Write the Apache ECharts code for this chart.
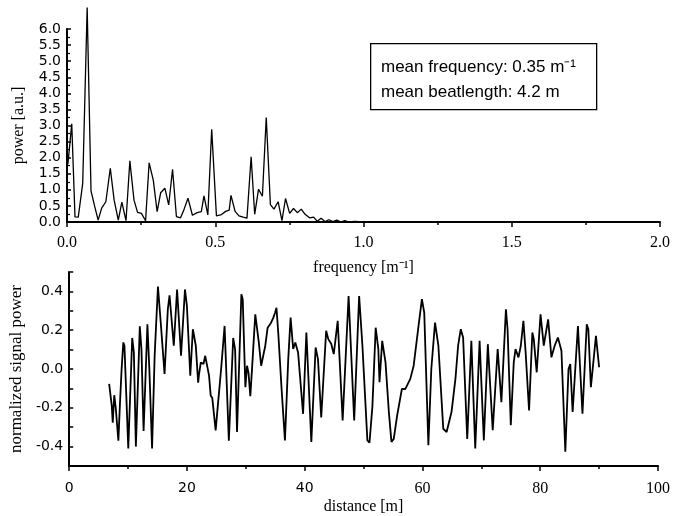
<!DOCTYPE html>
<html>
<head>
<meta charset="utf-8">
<script src="https://cdn.jsdelivr.net/npm/echarts@6/dist/echarts.min.js"></script>
<style>
html,body{margin:0;padding:0;background:#fff;}
#c{width:673px;height:516px;}
</style>
</head>
<body>
<div id="c"></div>
<script>
// ---- Top panel: power spectrum ----
var freq = [0.003,0.016,0.027,0.038,0.053,0.068,0.081,0.093,0.105,0.117,0.131,0.146,0.159,0.173,0.185,0.199,
  0.212,0.226,0.238,0.251,0.265,0.277,0.291,0.304,0.316,0.330,0.343,0.356,0.369,0.383,0.395,0.408,
  0.423,0.439,0.453,0.462,0.475,0.488,0.504,0.521,0.535,0.547,0.553,0.567,0.580,0.594,0.607,0.621,
  0.633,0.646,0.659,0.672,0.686,0.698,0.712,0.725,0.737,0.751,0.764,0.777,0.790,0.803,0.818,0.832,
  0.844,0.857,0.871,0.883,0.897,0.910,0.924,0.937,0.950,0.970,1.000,1.500,2.000];
var power = [1.80,3.05,0.16,0.15,1.20,6.67,0.97,0.50,0.06,0.43,0.63,1.67,0.68,0.06,0.62,0.04,
  1.90,0.68,0.30,0.27,0.04,1.84,1.30,0.32,0.91,1.05,0.53,1.64,0.17,0.13,0.40,0.74,
  0.21,0.29,0.32,0.81,0.22,2.88,0.19,0.23,0.33,0.37,0.83,0.33,0.19,0.15,0.12,2.03,
  0.24,1.02,0.80,3.25,0.54,0.40,0.63,0.04,0.73,0.27,0.42,0.29,0.40,0.24,0.13,0.15,
  0.02,0.12,0.01,0.07,0.01,0.06,0.00,0.04,0.00,0.02,0.00,0.00,0.00];

// ---- Bottom panel: normalized signal power vs distance ----
var distance = [6.78,7.23,7.39,7.65,7.90,8.35,8.63,8.90,9.19,9.38,10.03,10.70,10.98,11.32,11.99,12.27,12.63,
  13.28,13.61,14.07,14.51,15.07,15.63,16.19,16.75,17.04,17.76,18.32,18.99,19.66,19.99,20.56,21.00,21.50,
  21.90,22.02,22.35,22.80,23.10,23.40,23.75,24.03,24.30,24.87,25.15,25.80,26.39,27.11,27.85,28.18,28.50,
  29.24,29.47,29.92,30.20,30.45,30.76,31.15,31.60,32.20,32.60,33.30,33.70,34.28,34.67,34.96,35.20,35.50,
  36.07,36.64,37.20,37.60,38.04,38.40,38.87,39.72,40.28,41.12,41.85,42.25,42.80,43.64,44.00,44.50,44.93,
  45.60,46.44,47.45,48.40,49.24,49.80,50.64,51.00,51.50,52.05,52.50,52.70,53.16,53.72,54.29,54.73,55.12,
  55.70,56.50,57.10,57.93,58.50,59.33,59.90,60.30,61.00,61.50,62.13,62.70,63.53,64.10,64.93,65.60,66.05,
  66.50,66.90,67.60,68.30,68.96,69.70,70.42,71.10,71.93,72.77,73.40,74.17,74.45,75.00,75.50,75.80,76.30,
  76.70,77.14,77.50,78.10,78.66,78.90,79.40,80.05,80.60,81.34,81.90,82.45,83.00,83.60,84.26,84.80,85.10,
  85.50,86.40,87.17,87.90,88.17,88.60,89.46,90.00];
var signal = [-0.077,-0.190,-0.277,-0.135,-0.200,-0.370,-0.170,0.000,0.137,0.120,-0.410,0.160,0.085,-0.400,0.220,0.100,-0.320,
  0.230,0.000,-0.410,0.068,0.425,0.205,-0.026,0.308,0.380,0.120,0.410,0.068,0.410,0.325,-0.034,0.205,0.120,
  -0.070,-0.034,0.034,0.026,0.068,0.020,-0.034,-0.137,-0.150,-0.316,-0.220,0.000,0.222,-0.370,0.160,0.100,-0.325,
  0.385,0.360,-0.094,0.017,-0.020,-0.140,0.051,0.282,0.137,0.017,0.120,0.213,0.239,0.265,0.290,0.316,0.188,
  -0.103,-0.368,0.051,0.265,0.103,0.137,0.085,-0.231,0.188,-0.376,0.111,0.051,-0.250,0.197,0.154,0.130,0.077,
  0.248,-0.265,0.376,-0.265,0.376,0.120,-0.368,-0.380,-0.190,0.213,0.103,-0.068,0.145,0.034,-0.222,-0.376,-0.360,
  -0.239,-0.103,-0.103,-0.051,0.017,0.222,0.360,0.290,-0.393,0.000,0.239,0.120,-0.308,-0.325,-0.222,-0.050,0.120,
  0.205,0.162,-0.360,0.145,-0.410,0.145,-0.368,0.128,-0.316,0.103,-0.171,0.308,0.205,-0.290,0.034,0.103,0.060,
  0.120,0.248,0.094,-0.214,0.188,0.154,-0.017,0.282,0.120,0.256,0.060,0.120,0.162,0.094,-0.427,0.000,0.026,
  -0.222,0.222,-0.231,0.231,0.205,-0.094,0.171,0.009];

// tick label settings
var topYTicks = {min: 0, max: 6, interval: 0.5};
var topXTicks = {min: 0, max: 2, interval: 0.5};
var botXTicks = {min: 0, max: 100, interval: 20};
var botYTicks = {min: -0.5, max: 0.5, interval: 0.1};

var serif = "'Liberation Serif','Times New Roman',serif";
var sans = "'DejaVu Sans','Liberation Sans',sans-serif";

function pairs(xs, ys){ var out=[]; for(var i=0;i<xs.length;i++) out.push([xs[i], ys[i]]); return out; }

var axisLineStyle = {color:'#000', width:2};
var chart = echarts.init(document.getElementById('c'), null, {renderer:'canvas'});
chart.setOption({
  animation: false,
  backgroundColor: '#fff',
  grid: [
    {left: 67, right: 11, top: 29, height: 193, containLabel: false},
    {left: 67, right: 11, top: 272, height: 196, containLabel: false}
  ],
  xAxis: [
    {type:'value', gridIndex:0, min:topXTicks.min, max:topXTicks.max, interval:topXTicks.interval,
     name:'frequency [m⁻¹]', nameLocation:'middle', nameGap:38,
     nameTextStyle:{fontFamily:serif, fontSize:16, color:'#000'},
     axisLine:{show:true, onZero:false, lineStyle:axisLineStyle},
     axisTick:{show:true, inside:false, length:5, lineStyle:{color:'#000', width:1.5}},
     minorTick:{show:true, splitNumber:2, length:3, lineStyle:{color:'#000', width:1.5}},
     splitLine:{show:false}, minorSplitLine:{show:false},
     axisLabel:{fontFamily:serif, fontSize:16, color:'#000', margin:13,
       formatter:function(v){return v.toFixed(1);}}},
    {type:'value', gridIndex:1, min:botXTicks.min, max:botXTicks.max, interval:botXTicks.interval,
     name:'distance [m]', nameLocation:'middle', nameGap:33,
     nameTextStyle:{fontFamily:serif, fontSize:16, color:'#000'},
     axisLine:{show:true, onZero:false, lineStyle:axisLineStyle},
     axisTick:{show:true, inside:false, length:5, lineStyle:{color:'#000', width:1.5}},
     minorTick:{show:true, splitNumber:2, length:3, lineStyle:{color:'#000', width:1.5}},
     splitLine:{show:false}, minorSplitLine:{show:false},
     axisLabel:{color:'#000', margin:15,
       formatter:function(v){return v <= 40 ? '{s|'+v+'}' : '{t|'+v+'}';},
       rich:{s:{fontFamily:sans, fontSize:14, color:'#000'}, t:{fontFamily:serif, fontSize:16, color:'#000'}}}}
  ],
  yAxis: [
    {type:'value', gridIndex:0, min:topYTicks.min, max:topYTicks.max, interval:topYTicks.interval,
     name:'power [a.u.]', nameLocation:'middle', nameGap:40,
     nameTextStyle:{fontFamily:serif, fontSize:16, color:'#000'},
     axisLine:{show:true, onZero:false, lineStyle:axisLineStyle},
     axisTick:{show:true, inside:true, length:4, lineStyle:{color:'#000', width:1.5}},
     minorTick:{show:true, splitNumber:2, length:3, lineStyle:{color:'#000', width:1.2}},
     splitLine:{show:false}, minorSplitLine:{show:false},
     axisLabel:{fontFamily:sans, fontSize:14, color:'#000', margin:6,
       formatter:function(v){return v.toFixed(1);}}},
    {type:'value', gridIndex:1, min:botYTicks.min, max:botYTicks.max, interval:botYTicks.interval,
     name:'normalized signal power', nameLocation:'middle', nameGap:40,
     nameTextStyle:{fontFamily:serif, fontSize:17, color:'#000'},
     axisLine:{show:true, onZero:false, lineStyle:axisLineStyle},
     axisTick:{show:true, inside:true, length:4, lineStyle:{color:'#000', width:1.5}},
     splitLine:{show:false},
     axisLabel:{fontFamily:sans, fontSize:14, color:'#000', margin:6, showMinLabel:true, showMaxLabel:true,
       formatter:function(v){var k=Math.round(v*10); if(Math.abs(k)%2===1) return ''; return (k/10).toFixed(1);}}}
  ],
  series: [
    {type:'line', xAxisIndex:0, yAxisIndex:0, data:pairs(freq, power), showSymbol:false, clip:false,
     lineStyle:{color:'#000', width:1.3}, silent:true},
    {type:'line', xAxisIndex:1, yAxisIndex:1, data:pairs(distance, signal), showSymbol:false, clip:false,
     lineStyle:{color:'#000', width:1.8}, silent:true}
  ],
  graphic: [
    {type:'rect', left:370, top:43, shape:{width:226, height:66},
     style:{fill:'#fff', stroke:'#000', lineWidth:1.3}, z:100},
    {type:'text', left:381, top:59, z:101,
     style:{text:'mean frequency: 0.35 m⁻¹', font:"17px 'Liberation Sans', Arial, sans-serif", fill:'#000'}},
    {type:'text', left:381, top:84, z:101,
     style:{text:'mean beatlength: 4.2 m', font:"17px 'Liberation Sans', Arial, sans-serif", fill:'#000'}}
  ]
});
</script>
</body>
</html>
